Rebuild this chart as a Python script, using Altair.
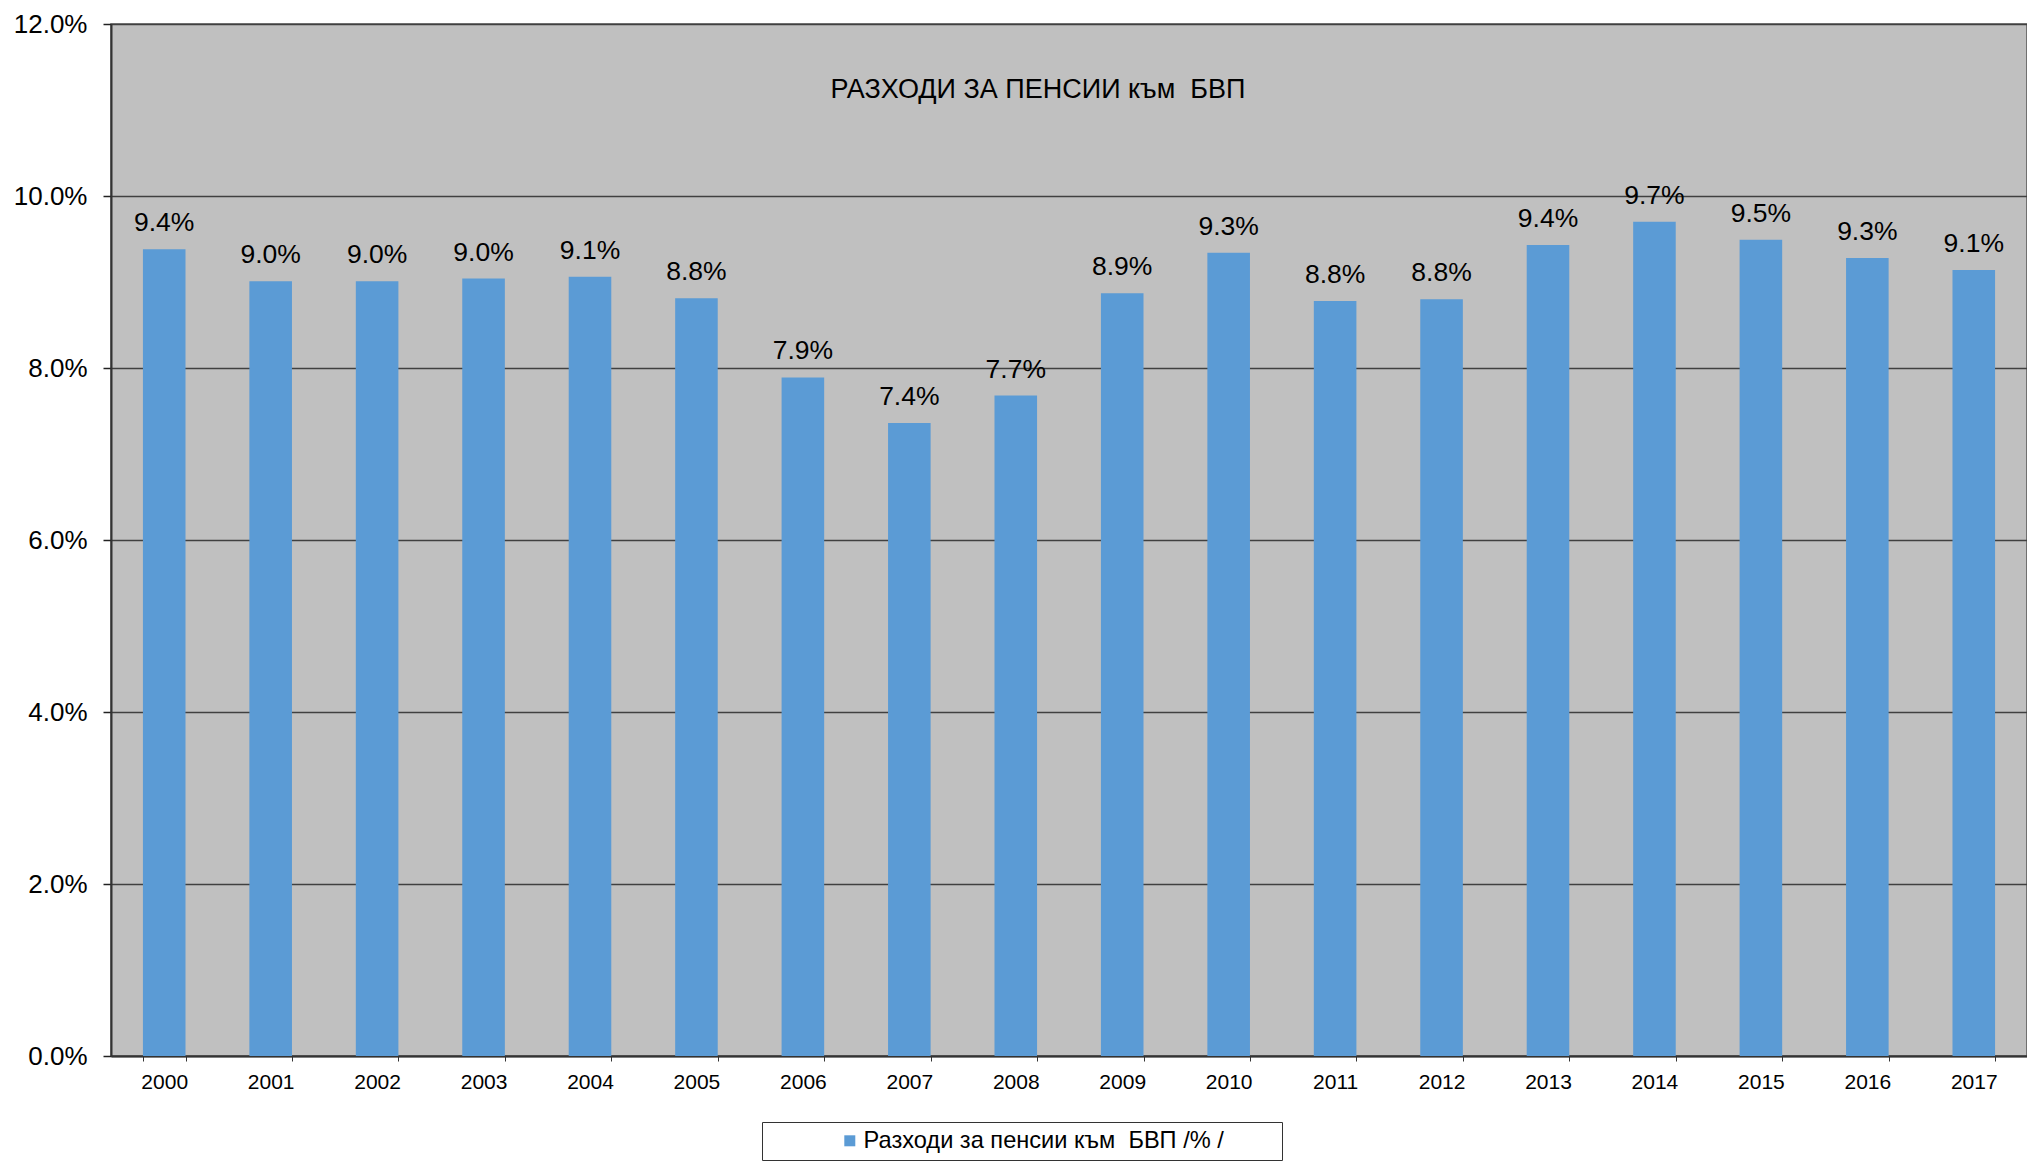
import altair as alt
import pandas as pd

years = ["2000", "2001", "2002", "2003", "2004", "2005", "2006", "2007", "2008",
         "2009", "2010", "2011", "2012", "2013", "2014", "2015", "2016", "2017"]
values = [9.38, 9.01, 9.01, 9.04, 9.06, 8.81, 7.89, 7.36, 7.68,
          8.87, 9.34, 8.78, 8.80, 9.43, 9.70, 9.49, 9.28, 9.14]
series_name = "Разходи за пенсии към\u00a0\u00a0БВП /% /"
title_text = "РАЗХОДИ ЗА ПЕНСИИ към\u00a0\u00a0БВП"
y_ticks = [0, 0.02, 0.04, 0.06, 0.08, 0.10, 0.12]

df = pd.DataFrame({
    "year": years,
    "share": [v / 100 for v in values],
    "series": series_name,
})

FONT = "Liberation Sans"

base = alt.Chart(df).encode(
    x=alt.X("year:N", sort=years, title=None,
            scale=alt.Scale(paddingInner=0.6, paddingOuter=0.3),
            axis=alt.Axis(labelAngle=0, labelFontSize=21, labelFont=FONT,
                          labelColor="black", labelPadding=10,
                          tickBand="extent", tickSize=5, tickColor="#333333",
                          domainColor="#333333", domainWidth=2, grid=False)),
    y=alt.Y("share:Q", title=None,
            scale=alt.Scale(domain=[0, 0.12], nice=False),
            axis=alt.Axis(format=".1%", values=y_ticks, labelFontSize=26,
                          labelFont=FONT, labelColor="black", labelPadding=16,
                          tickSize=8, tickColor="#222222", tickWidth=1.5,
                          domainColor="#333333", domainWidth=2,
                          grid=True, gridColor="#404040", gridWidth=1.5)),
)

bars = base.mark_bar(color="#5B9BD5").encode(
    color=alt.Color("series:N",
                    scale=alt.Scale(range=["#5B9BD5"]),
                    legend=alt.Legend(title="\u00a0", titleOrient="right",
                                      titleFontSize=10, titlePadding=51,
                                      orient="none",
                                      legendX=651, legendY=1098,
                                      labelFontSize=23.6, labelFont=FONT,
                                      labelColor="black", labelLimit=800,
                                      labelOffset=2,
                                      symbolOffset=69,
                                      symbolType="square", symbolSize=121,
                                      symbolStrokeWidth=0,
                                      padding=7, strokeColor="#333333",
                                      fillColor="white"))
)

labels = base.mark_text(dy=-18, baseline="alphabetic", fontSize=26.5,
                        font=FONT, color="black").encode(
    text=alt.Text("share:Q", format=".1%")
)

chart = (bars + labels).properties(
    width=1916,
    height=1032,
    title=alt.TitleParams(title_text, fontSize=27, font=FONT,
                          fontWeight="normal", color="black",
                          anchor="middle", dx=-31, dy=97),
    autosize=alt.AutoSizeParams(type="none"),
    padding={"left": 103, "top": 16, "right": 0, "bottom": 108},
).configure_view(
    fill="#C0C0C0", stroke="#555555", strokeWidth=1.5
)

chart.save("out.html", embed_options={"renderer": "svg", "actions": False})
